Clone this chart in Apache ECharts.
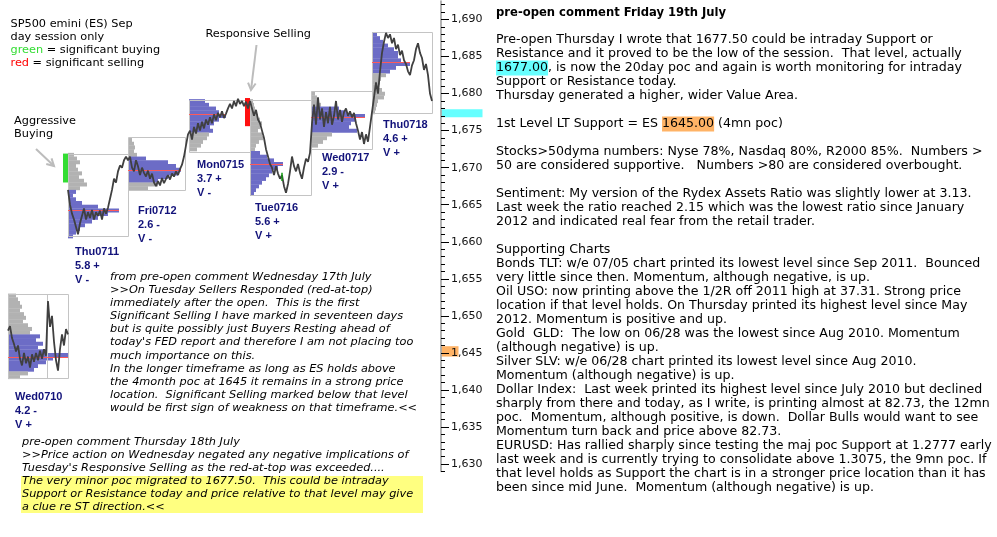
<!DOCTYPE html>
<html><head><meta charset="utf-8">
<script src="https://cdn.jsdelivr.net/npm/echarts@6/dist/echarts.min.js"></script>
<style>html,body{margin:0;padding:0;background:#fff}#c{width:997px;height:537px}</style>
</head><body><div id="c"></div>
<script>
// ================= DATA =================
const days      = ['Wed0710','Thu0711','Fri0712','Mon0715','Tue0716','Wed0717','Thu0718'];
const rangeStat = ['4.2 -','5.8 +','2.6 -','3.7 +','5.6 +','2.9 -','4.6 +'];
const volStat   = ['V +','V -','V -','V -','V +','V +','V +'];
// session slots (time index) of each day's profile box
const sessStart = [8, 68, 128, 189, 250, 311, 372];
const sessEnd   = [68, 128, 185, 250, 311, 372, 432];
const sessSplit = [47, null, null, null, null, null, null];
const dayHigh   = [1652.9, 1671.8, 1674.1, 1679.2, 1679.2, 1680.4, 1688.3];
const dayLow    = [1641.5, 1660.7, 1666.9, 1672.2, 1666.4, 1672.6, 1677.4];
const pocPrice  = [1644.4, 1664.3, 1669.7, 1677.2, 1670.5, 1676.9, 1684.25];
const vaHigh    = [1647.5, 1666.75, 1671.5, 1679.25, 1672.25, 1678.25, 1688.25];
const vaLow     = [1642.5, 1660.5, 1668.0, 1674.75, 1666.25, 1674.75, 1682.75];
// profile: top price level of each day, then TPO counts per 0.5 pt going down
const PROFILE_STEP = 0.5;
const profTop = [1652.75, 1671.75, 1673.75, 1679, 1679, 1680, 1688];
const profWed0710 = [8,10,12,14,12,16,18,15,20,24,22,32,28,35,30,40,60,45,38,30,26,20,12];
const profThu0711 = [6,9,12,8,10,14,11,16,19,12,8,5,8,14,30,51,40,30,24,17,12,8,5];
const profFri0712 = [4,6,7,6,9,18,40,48,53,50,40,30,30,20];
const profMon0715 = [16,20,27,30,37,30,25,21,24,20,18,14,12,8];
const profTue0716 = [3,4,5,6,8,10,12,10,8,12,13,9,6,5,10,17,24,33,28,22,19,16,12,9,6,4];
const profWed0717 = [4,6,8,10,28,36,54,44,40,38,46,21,16,12,7];
const profThu0718 = [5,8,11,16,22,26,26,29,38,24,18,14,9,8,7,10,13,12,6,5,4,3];
const profiles = [profWed0710, profThu0711, profFri0712, profMon0715, profTue0716, profWed0717, profThu0718];
// price trace, one value per 2 slots
const TRACE_STEP = 2;
const traceStart = [8, 68, 130, 190, 250, 312, 372];
const trWed0710 = [1648.0,1648.6,1647.0,1646.2,1645.2,1646.0,1644.2,1643.3,1645.0,1643.6,1644.5,1643.0,1644.8,1643.8,1645.0,1644.0,1645.3,1644.2,1645.5,1644.6,1652.0,1648.5,1650.0,1646.5,1644.0,1642.6,1645.5,1647.5,1646.0,1648.2,1647.5];
const trThu0711 = [1667.0,1665.0,1663.8,1663.0,1662.0,1661.0,1662.5,1663.5,1664.5,1663.0,1664.0,1663.2,1664.3,1663.0,1664.0,1663.5,1664.2,1663.0,1664.5,1663.8,1664.6,1665.8,1667.0,1668.5,1668.0,1669.5,1670.3,1670.0,1671.0,1671.5,1671.0];
const trFri0712 = [1671.5,1670.0,1669.5,1671.0,1670.2,1669.0,1670.0,1669.3,1668.8,1669.6,1668.5,1669.2,1668.0,1667.5,1668.2,1667.6,1668.6,1667.9,1668.5,1669.0,1668.4,1669.2,1668.8,1669.5,1669.0,1669.8,1670.4,1671.5,1673.0,1674.5];
const trMon0715 = [1675.0,1673.8,1675.5,1674.6,1676.0,1675.0,1676.2,1675.3,1676.5,1675.8,1676.8,1676.0,1677.2,1676.4,1677.4,1676.8,1677.6,1676.7,1677.3,1678.0,1678.6,1678.0,1679.0,1678.3,1679.3,1678.6,1679.0,1678.3,1678.9,1678.0];
const trTue0716 = [1679.0,1678.0,1677.0,1677.8,1676.5,1676.0,1675.0,1674.0,1672.5,1671.5,1670.5,1670.0,1669.0,1670.2,1669.2,1668.5,1669.0,1667.5,1666.6,1667.8,1669.5,1671.5,1670.2,1669.5,1670.5,1669.3,1668.5,1670.0,1671.2,1670.8,1672.0];
const trWed0717 = [1676.0,1678.5,1675.8,1679.5,1676.5,1678.0,1675.5,1677.5,1676.0,1678.2,1675.8,1677.0,1679.0,1676.5,1677.8,1676.2,1677.5,1678.0,1677.0,1677.6,1676.8,1677.4,1676.0,1675.0,1673.8,1674.8,1673.2,1674.5,1673.5,1675.5];
const trThu0718 = [1677.5,1679.5,1681.5,1680.0,1683.0,1685.5,1687.0,1688.2,1687.5,1688.0,1686.8,1687.5,1686.0,1686.6,1685.2,1685.8,1684.5,1684.0,1683.0,1682.5,1683.8,1684.5,1686.0,1686.8,1685.5,1684.8,1683.2,1684.0,1682.5,1680.0,1679.0];
const traces = [trWed0710, trThu0711, trFri0712, trMon0715, trTue0716, trWed0717, trThu0718];
// significant activity marks: day index, low, high, kind
const sigDay  = [1, 4];
const sigLow  = [1668.0, 1675.6];
const sigHigh = [1671.9, 1679.4];
const sigKind = ['buy', 'sell'];
// green (buying) segment inside Tue0716
const greenSeg = [[282, 1669.3], [282, 1668.2]];
// key levels highlighted on the price scale
const keyLevelPrice = [1677.35, 1645.2];
const keyLevelKind  = ['poc20d', 'poc4mn'];
// price axis tick labels
const yTickLabels = [1630,1635,1640,1645,1650,1655,1660,1665,1670,1675,1680,1685,1690];

// ================= LAYOUT / STYLE =================
const W = 997, H = 537;
const AXIS_X = 441;
const Y_MAX = 1692.5, Y_MIN = 1629;
const PPU = (464 - 19.5) / 60;
const gridTop = 19.5 - (Y_MAX - 1690) * PPU;
const gridBottom = H - (464 + (1630 - Y_MIN) * PPU);
const BLUE = '#6c6cc6', GRAY = '#b2b2b2', BOX = '#c4c4c4', NAVY = '#12127a';
const TRACE = '#404040', POC = '#ff5a5a';
const labelOff = [[7,18],[7,15],[10,20],[8,14],[5,14],[11,10],[11,12]];
const keyLevelStyle = {poc20d: {color:'#66ffff', width:41, half:0.55}, poc4mn: {color:'#ffb366', width:17, half:0.7}};
const sigColor = {buy:'#33dd33', sell:'#ff1010'};
const SIG_W = 5;
const F = '"DejaVu Sans", Verdana, sans-serif';
const FS_BODY = 12.6, FS_NOTE = 11.3, FS_SMALL = 11.3;

// ============ derived series data ============
const profData = [];
profiles.forEach((arr, d) => {
  arr.forEach((len, k) => {
    const p = profTop[d] - k * PROFILE_STEP;
    const inVA = (p <= vaHigh[d] && p >= vaLow[d]) ? 1 : 0;
    profData.push([sessStart[d], p, len, inVA]);
  });
});
const boxData = days.map((_, d) => [sessStart[d], dayHigh[d], sessEnd[d], dayLow[d], sessSplit[d] == null ? -1 : sessSplit[d]]);
const pocData = days.map((_, d) => [sessStart[d], pocPrice[d], Math.max(...profiles[d])]);
const sigData = sigDay.map((d, i) => [sessStart[d], sigLow[i], sigHigh[i], i]);
const labelData = days.map((_, d) => [sessStart[d], dayLow[d], d]);
const traceXY = d => traces[d].map((v, k) => [traceStart[d] + k * TRACE_STEP, v]);
const mainTrace = [];
for (let d = 1; d < days.length; d++) mainTrace.push(...traceXY(d));
const keyData = keyLevelPrice.map((p, i) => [AXIS_X, p, i]);

const intTicks = [];
for (let v = Math.ceil(Y_MIN); v <= Math.floor(Y_MAX); v++) intTicks.push(v);

// ============ text blocks ============
const rightTitle = 'pre-open comment Friday 19th July';
const rightLines = [
 'Pre-open Thursday I wrote that 1677.50 could be intraday Support or',
 'Resistance and it proved to be the low of the session.  That level, actually',
 '{cy|1677.00}, is now the 20day poc and again is worth monitoring for intraday',
 'Support or Resistance today.',
 'Thursday generated a higher, wider Value Area.',
 '',
 '1st Level LT Support = ES {or|1645.00} (4mn poc)',
 '',
 'Stocks>50dyma numbers: Nyse 78%, Nasdaq 80%, R2000 85%.  Numbers >',
 '50 are considered supportive.   Numbers >80 are considered overbought.',
 '',
 'Sentiment: My version of the Rydex Assets Ratio was slightly lower at 3.13.',
 'Last week the ratio reached 2.15 which was the lowest ratio since January',
 '2012 and indicated real fear from the retail trader.',
 '',
 'Supporting Charts',
 'Bonds TLT: w/e 07/05 chart printed its lowest level since Sep 2011.  Bounced',
 'very little since then. Momentum, although negative, is up.',
 'Oil USO: now printing above the 1/2R off 2011 high at 37.31. Strong price',
 'location if that level holds. On Thursday printed its highest level since May',
 '2012. Momentum is positive and up.',
 'Gold  GLD:  The low on 06/28 was the lowest since Aug 2010. Momentum',
 '(although negative) is up.',
 'Silver SLV: w/e 06/28 chart printed its lowest level since Aug 2010.',
 'Momentum (although negative) is up.',
 'Dollar Index:  Last week printed its highest level since July 2010 but declined',
 'sharply from there and today, as I write, is printing almost at 82.73, the 12mn',
 'poc.  Momentum, although positive, is down.  Dollar Bulls would want to see',
 'Momentum turn back and price above 82.73.',
 'EURUSD: Has rallied sharply since testing the maj poc Support at 1.2777 early',
 'last week and is currently trying to consolidate above 1.3075, the 9mn poc. If',
 'that level holds as Support the chart is in a stronger price location than it has',
 'been since mid June.  Momentum (although negative) is up.'
];
const noteA = [
 'from pre-open comment Wednesday 17th July',
 '>>On Tuesday Sellers Responded (red-at-top)',
 'immediately after the open.  This is the first',
 'Significant Selling I have marked in seventeen days',
 'but is quite possibly just Buyers Resting ahead of',
 "today's FED report and therefore I am not placing too",
 'much importance on this.',
 'In the longer timeframe as long as ES holds above',
 'the 4month poc at 1645 it remains in a strong price',
 'location.  Significant Selling marked below that level',
 'would be first sign of weakness on that timeframe.<<'
];
const noteB = [
 'pre-open comment Thursday 18th July',
 '>>Price action on Wednesday negated any negative implications of',
 "Tuesday's Responsive Selling as the red-at-top was exceeded....",
 'The very minor poc migrated to 1677.50.  This could be intraday',
 'Support or Resistance today and price relative to that level may give',
 'a clue re ST direction.<<'
];
const legendLines = ['SP500 emini (ES) Sep', 'day session only', '{g|green} = significant buying', '{r|red} = significant selling'];

const graphics = [];
const txt = (x, y, text, font, extra) => graphics.push({type:'text', x, y, z:10,
  style: Object.assign({text, font, fill:'#000', verticalAlign:'middle', align:'left'}, extra || {})});
const RB = {fontFamily: F, fontSize: FS_BODY};
const RS = {fontFamily: F, fontSize: FS_SMALL};
// yellow highlight
graphics.push({type:'rect', shape:{x:21, y:476, width:402, height:37}, style:{fill:'#ffff80'}, z:1});
txt(496, 13, rightTitle, 'bold 11.6px ' + F);
rightLines.forEach((t, i) => { if (t) txt(496, 40 + i * 14, t, FS_BODY + 'px ' + F, {rich:{
  cy: Object.assign({backgroundColor:'#66ffff', padding:[1,0,1,0]}, RB),
  or: Object.assign({backgroundColor:'#ffb366', padding:[1,0,1,0]}, RB)}}); });
noteA.forEach((t, i) => txt(110, 277.3 + i * 13.05, t, 'italic ' + FS_NOTE + 'px ' + F));
noteB.forEach((t, i) => txt(22, 442.3 + i * 13, t, 'italic ' + FS_NOTE + 'px ' + F));
legendLines.forEach((t, i) => txt(10.5, 24.3 + i * 12.8, t, FS_SMALL + 'px ' + F, {rich:{
  g: Object.assign({fill:'#33dd33'}, RS), r: Object.assign({fill:'#ff0000'}, RS)}}));
txt(14, 120.7, 'Aggressive', FS_SMALL + 'px ' + F);
txt(14, 134, 'Buying', FS_SMALL + 'px ' + F);
txt(205.5, 34.3, 'Responsive Selling', FS_SMALL + 'px ' + F);
function arrow(x1, y1, x2, y2) {
  const a = Math.atan2(y2 - y1, x2 - x1), L = 8, s = 0.5;
  graphics.push({type:'polyline', z:9, shape:{points:[[x1,y1],[x2,y2]]}, style:{stroke:'#bcbcbc', lineWidth:2}});
  graphics.push({type:'polyline', z:9, shape:{points:[
    [x2 - L * Math.cos(a - s), y2 - L * Math.sin(a - s)], [x2, y2],
    [x2 - L * Math.cos(a + s), y2 - L * Math.sin(a + s)]]}, style:{stroke:'#bcbcbc', lineWidth:2}});
}
arrow(36, 149, 54, 166);
arrow(256.5, 45, 251, 90);

// ============ chart ============
const chart = echarts.init(document.getElementById('c'), null, {renderer:'canvas'});
const gridRect = {left:0, right:W - AXIS_X, top:gridTop, bottom:gridBottom, containLabel:false};
chart.setOption({
  animation:false,
  backgroundColor:'#fff',
  grid:[Object.assign({}, gridRect), Object.assign({}, gridRect)],
  xAxis:[{type:'value', gridIndex:0, min:0, max:AXIS_X, show:false},
         {type:'value', gridIndex:1, min:0, max:AXIS_X, show:false}],
  yAxis:[
    {type:'value', gridIndex:0, position:'right', min:Y_MIN, max:Y_MAX,
     axisLine:{show:true, onZero:false, lineStyle:{color:'#9a9a9a', width:1.5}},
     axisTick:{show:true, length:4, customValues:intTicks, lineStyle:{color:'#000', width:1}},
     axisLabel:{show:false}, splitLine:{show:false}},
    {type:'value', gridIndex:1, position:'right', min:Y_MIN, max:Y_MAX,
     axisLine:{show:false, onZero:false},
     axisTick:{show:true, length:8, customValues:yTickLabels, lineStyle:{color:'#000', width:1}},
     axisLabel:{show:true, customValues:yTickLabels, margin:10, color:'#111', fontFamily:F, fontSize:11,
       formatter: v => v.toLocaleString('en-US')},
     splitLine:{show:false}}
  ],
  series:[
    { // key levels on the price scale
      type:'custom', z:-1, clip:false, data:keyData, encode:{x:0, y:1},
      renderItem:(p, api) => {
        const st = keyLevelStyle[keyLevelKind[api.value(2)]];
        const a = api.coord([api.value(0), api.value(1) + st.half]);
        const b = api.coord([api.value(0) + st.width, api.value(1) - st.half]);
        return {type:'rect', shape:{x:a[0] + 0.5, y:a[1], width:b[0] - a[0], height:b[1] - a[1]}, style:{fill:st.color}};
      }
    },
    { // profiles
      type:'custom', z:2, data:profData, encode:{x:0, y:1},
      renderItem:(p, api) => {
        const a = api.coord([api.value(0), api.value(1) + PROFILE_STEP / 2]);
        const b = api.coord([api.value(0) + api.value(2), api.value(1) - PROFILE_STEP / 2]);
        return {type:'rect', shape:{x:a[0], y:a[1], width:b[0] - a[0], height:b[1] - a[1] + 0.3},
          style:{fill: api.value(3) ? BLUE : GRAY}};
      }
    },
    { // session boxes
      type:'custom', z:3, data:boxData, encode:{x:[0,2], y:[1,3]},
      renderItem:(p, api) => {
        const a = api.coord([api.value(0), api.value(1)]);
        const b = api.coord([api.value(2), api.value(3)]);
        const kids = [{type:'rect', shape:{x:Math.round(a[0]) + 0.5, y:Math.round(a[1]) + 0.5, width:Math.round(b[0] - a[0]), height:Math.round(b[1] - a[1])},
          style:{fill:null, stroke:BOX, lineWidth:1}}];
        if (api.value(4) >= 0) {
          const s = api.coord([api.value(4), api.value(1)]);
          kids.push({type:'line', shape:{x1:Math.round(s[0]) + 0.5, y1:a[1], x2:Math.round(s[0]) + 0.5, y2:b[1]},
            style:{stroke:BOX, lineWidth:1}});
        }
        return {type:'group', children:kids};
      }
    },
    { // poc lines
      type:'custom', z:4, data:pocData, encode:{x:0, y:1},
      renderItem:(p, api) => {
        const a = api.coord([api.value(0), api.value(1)]);
        const b = api.coord([api.value(0) + api.value(2), api.value(1)]);
        return {type:'line', shape:{x1:a[0], y1:Math.round(a[1]) + 0.5, x2:b[0], y2:Math.round(a[1]) + 0.5},
          style:{stroke:POC, lineWidth:1}};
      }
    },
    { // significant buying / selling marks
      type:'custom', z:4, data:sigData, encode:{x:0, y:[1,2]},
      renderItem:(p, api) => {
        const a = api.coord([api.value(0) - SIG_W, api.value(2)]);
        const b = api.coord([api.value(0), api.value(1)]);
        return {type:'rect', shape:{x:a[0], y:a[1], width:b[0] - a[0], height:b[1] - a[1]},
          style:{fill: sigColor[sigKind[api.value(3)]]}};
      }
    },
    {type:'line', z:5, data:traceXY(0), showSymbol:false, silent:true,
     lineStyle:{color:TRACE, width:1.8}},
    {type:'line', z:5, data:mainTrace, showSymbol:false, silent:true,
     lineStyle:{color:TRACE, width:1.8}},
    {type:'line', z:6, data:greenSeg, showSymbol:false, silent:true,
     lineStyle:{color:'#119911', width:1.5}},
    { // day labels
      type:'custom', z:7, data:labelData, encode:{x:0, y:1},
      renderItem:(p, api) => {
        const d = api.value(2);
        const pt = api.coord([api.value(0), api.value(1)]);
        const off = labelOff[d];
        const lines = [days[d], rangeStat[d], volStat[d]];
        return {type:'group', children: lines.map((t, k) => ({type:'text', x:pt[0] + off[0], y:pt[1] + off[1] + k * 14,
          style:{text:t, font:'bold 11px "Liberation Sans", Arial, sans-serif', fill:NAVY, verticalAlign:'middle'}}))};
      }
    }
  ],
  graphic: graphics
});
</script></body></html>
